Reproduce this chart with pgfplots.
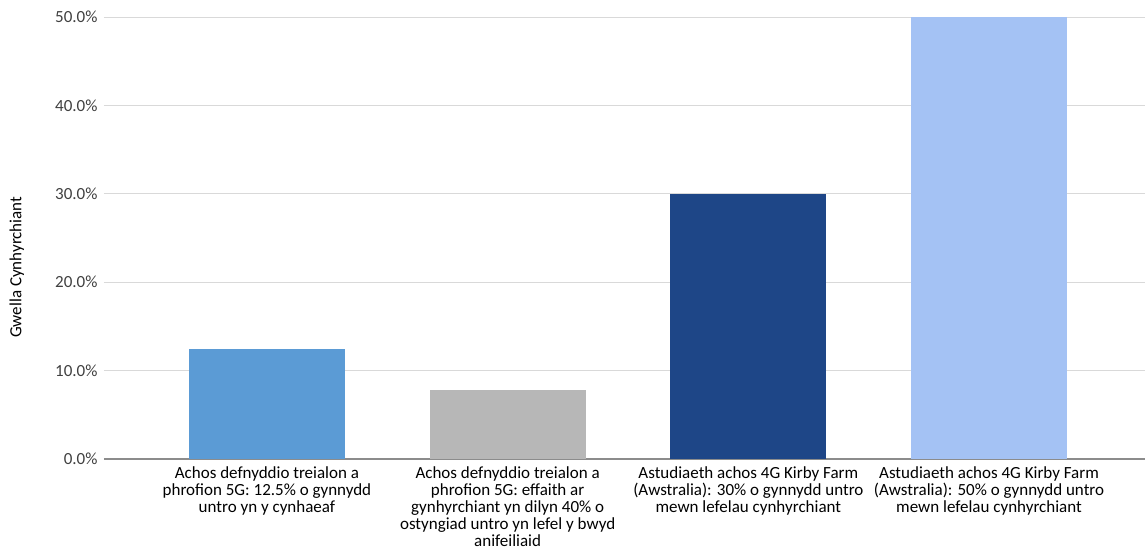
\documentclass[border=0pt]{standalone}
\usepackage{fontspec}
\setmainfont{Carlito}
\usepackage{pgfplots}
\pgfplotsset{compat=1.18}
\definecolor{bA}{HTML}{5B9BD5}
\definecolor{bB}{HTML}{B7B7B7}
\definecolor{bC}{HTML}{1E4687}
\definecolor{bD}{HTML}{A4C2F4}
\definecolor{gridc}{HTML}{D9D9D9}
\definecolor{axc}{HTML}{8C8C8C}
\definecolor{txt}{HTML}{404040}
\begin{document}
\begin{tikzpicture}
\begin{axis}[
  at={(0,0)}, anchor=south west,
  scale only axis, width=1041pt, height=442pt,
  xmin=-0.677, xmax=3.648, ymin=0, ymax=50,
  ybar, bar width=156pt, bar shift=0pt,
  axis x line*=bottom, axis y line*=left,
  x axis line style={draw=axc, line width=1.2pt, -},
  y axis line style={draw=none},
  ymajorgrids, grid style={draw=gridc, line width=1pt},
  ytick={0,10,20,30,40,50},
  major tick length=0pt,
  xtick={0,1,2,3},
  xticklabels={
    {Achos defnyddio treialon a\\phrofion 5G: 12.5\% o gynnydd\\untro yn y cynhaeaf},
    {Achos defnyddio treialon a\\phrofion 5G: effaith ar\\gynhyrchiant yn dilyn 40\% o\\ostyngiad untro yn lefel y bwyd\\anifeiliaid},
    {Astudiaeth achos 4G Kirby Farm\\(Awstralia): 30\% o gynnydd untro\\mewn lefelau cynhyrchiant},
    {Astudiaeth achos 4G Kirby Farm\\(Awstralia): 50\% o gynnydd untro\\mewn lefelau cynhyrchiant}},
  xticklabel style={align=center, font=\fontsize{17pt}{16.8pt}\selectfont, text=black, anchor=north, yshift=-4.5pt},
  yticklabel={\pgfmathprintnumber[fixed,fixed zerofill,precision=1]{\tick}\%},
  yticklabel style={font=\fontsize{17pt}{18pt}\selectfont, text=txt, anchor=east, xshift=-3pt},
  /pgf/number format/assume math mode=true,
  ylabel={Gwella Cynhyrchiant},
  ylabel style={font=\fontsize{17pt}{18pt}\selectfont, text=black, at={(axis description cs:-0.0836,0.434)}, anchor=center, rotate=0},
  clip=false,
]
\addplot[fill=bA, draw=none] coordinates {(0,12.5)};
\addplot[fill=bB, draw=none] coordinates {(1,7.8)};
\addplot[fill=bC, draw=none] coordinates {(2,30)};
\addplot[fill=bD, draw=none] coordinates {(3,50)};
\end{axis}
\pgfresetboundingbox
\path (-104pt,-90pt) rectangle (1041pt,459pt);
\end{tikzpicture}
\end{document}
